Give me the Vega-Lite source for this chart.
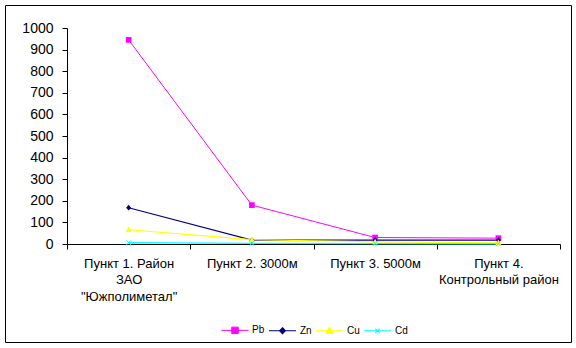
{
  "$schema": "https://vega.github.io/schema/vega-lite/v6.json",
  "width": 566,
  "height": 337,
  "autosize": {"type": "none"},
  "padding": {"left": 5, "top": 5, "right": 5, "bottom": 6},
  "background": "white",
  "config": {
    "view": {"stroke": "black", "strokeWidth": 1},
    "font": "Liberation Sans",
    "axis": {"grid": false, "domainColor": "black", "tickColor": "black", "labelColor": "black", "labelFont": "Liberation Sans", "domainWidth": 1, "tickWidth": 1}
  },
  "data": {
    "values": [
      {"point": "Пункт 1. Район|ЗАО|\"Южполиметал\"", "metal": "Pb", "value": 945},
      {"point": "Пункт 2. 3000м", "metal": "Pb", "value": 180},
      {"point": "Пункт 3. 5000м", "metal": "Pb", "value": 30},
      {"point": "Пункт 4.|Контрольный район", "metal": "Pb", "value": 27},
      {"point": "Пункт 1. Район|ЗАО|\"Южполиметал\"", "metal": "Zn", "value": 168},
      {"point": "Пункт 2. 3000м", "metal": "Zn", "value": 18},
      {"point": "Пункт 3. 5000м", "metal": "Zn", "value": 18},
      {"point": "Пункт 4.|Контрольный район", "metal": "Zn", "value": 18},
      {"point": "Пункт 1. Район|ЗАО|\"Южполиметал\"", "metal": "Cu", "value": 66},
      {"point": "Пункт 2. 3000м", "metal": "Cu", "value": 20},
      {"point": "Пункт 3. 5000м", "metal": "Cu", "value": 10},
      {"point": "Пункт 4.|Контрольный район", "metal": "Cu", "value": 6},
      {"point": "Пункт 1. Район|ЗАО|\"Южполиметал\"", "metal": "Cd", "value": 6},
      {"point": "Пункт 2. 3000м", "metal": "Cd", "value": 3},
      {"point": "Пункт 3. 5000м", "metal": "Cd", "value": 2},
      {"point": "Пункт 4.|Контрольный район", "metal": "Cd", "value": 1}
    ]
  },
  "encoding": {
    "x": {
      "field": "point", "type": "nominal", "sort": null, "bandPosition": 0.5,
      "scale": {"type": "band", "range": [62, 555], "paddingInner": 0, "paddingOuter": 0},
      "axis": {"orient": "bottom", "offset": -98, "tickBand": "extent", "tickSize": 5, "labelPadding": 8, "labelFontSize": 13, "labelLineHeight": 16.5, "labelExpr": "split(datum.label, '|')", "title": null, "labelAngle": 0, "labelOverlap": false, "labelBound": false}
    },
    "y": {
      "field": "value", "type": "quantitative",
      "scale": {"domain": [0, 1000], "range": [239, 23], "nice": false},
      "axis": {"orient": "left", "offset": -62, "values": [0, 100, 200, 300, 400, 500, 600, 700, 800, 900, 1000], "format": "d", "labelOverlap": false, "tickSize": 5, "labelPadding": 9, "labelFontSize": 14, "title": null}
    }
  },
  "layer": [
    {
      "mark": {"type": "line"},
      "encoding": {
        "color": {
          "field": "metal", "type": "nominal", "sort": null,
          "scale": {"domain": ["Pb", "Zn", "Cu", "Cd"], "range": ["#FF00FF", "#000080", "#FFFF00", "#00FFFF"]},
          "legend": {
            "orient": "none", "direction": "horizontal", "legendX": 216, "legendY": 311, "title": null,
            "symbolSize": 729, "symbolStrokeWidth": 1, "labelFontSize": 10, "labelOffset": 3, "columnPadding": 1, "padding": 0,
            "labelFont": "Liberation Sans", "labelColor": "black",
            "encode": {
              "symbols": {
                "update": {
                  "shape": {"signal": "datum.value === 'Pb' ? 'M-1,0H1M-0.24,-0.24H0.24V0.24H-0.24Z' : datum.value === 'Zn' ? 'M-1,0H1M0,-0.22L0.22,0L0,0.22L-0.22,0Z' : datum.value === 'Cu' ? 'M-1,0H1M0,-0.26L0.24,0.18H-0.24Z' : 'M-1,0H1M-0.16,-0.16L0.16,0.16M-0.16,0.16L0.16,-0.16'"},
                  "fill": {"signal": "scale('color', datum.value)"},
                  "stroke": {"signal": "scale('color', datum.value)"},
                  "opacity": {"value": 1}
                }
              }
            }
          }
        },
        "strokeWidth": {
          "field": "metal", "type": "nominal",
          "scale": {"domain": ["Pb", "Zn", "Cu", "Cd"], "range": [1, 1.2, 2, 1.5]},
          "legend": null
        }
      }
    },
    {
      "transform": [{"filter": "datum.metal === 'Pb'"}],
      "mark": {"type": "point", "filled": true, "opacity": 1, "size": 40, "strokeWidth": 1, "shape": "M-0.9,-0.9H0.9V0.9H-0.9Z", "color": "#FF00FF"}
    },
    {
      "transform": [{"filter": "datum.metal === 'Zn'"}],
      "mark": {"type": "point", "filled": true, "opacity": 1, "size": 40, "strokeWidth": 1, "shape": "M0,-0.9L0.8,0L0,0.9L-0.8,0Z", "color": "#000080"}
    },
    {
      "transform": [{"filter": "datum.metal === 'Cu'"}],
      "mark": {"type": "point", "filled": true, "opacity": 1, "size": 40, "strokeWidth": 1, "shape": "M0,-1L0.95,0.75H-0.95Z", "color": "#FFFF00"}
    },
    {
      "transform": [{"filter": "datum.metal === 'Cd'"}],
      "mark": {"type": "point", "filled": false, "opacity": 1, "size": 40, "strokeWidth": 1, "shape": "M-0.7,-0.7L0.7,0.7M-0.7,0.7L0.7,-0.7", "color": "#00FFFF"}
    }
  ]
}
